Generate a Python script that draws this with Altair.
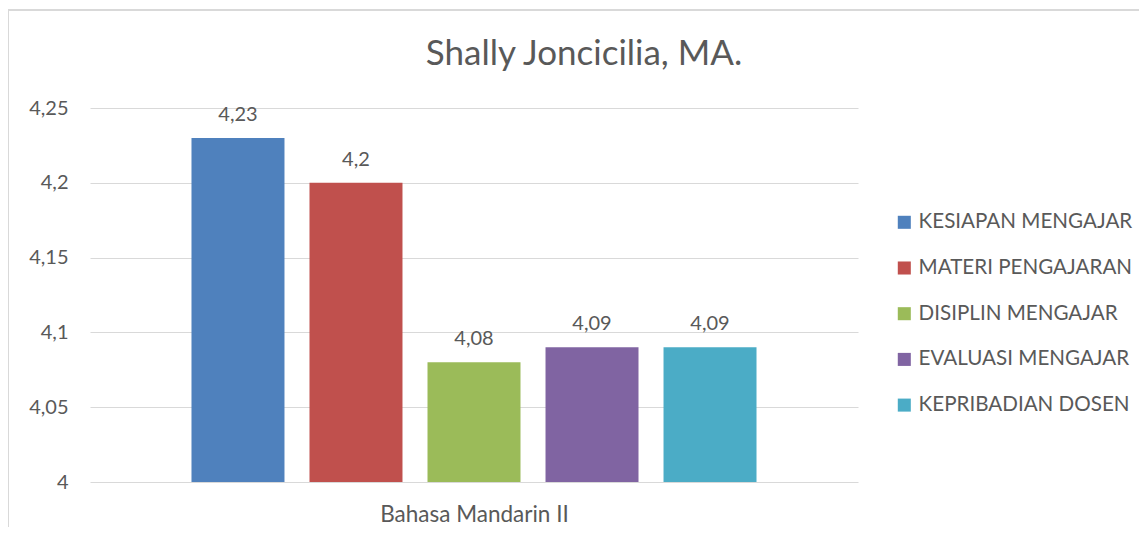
import altair as alt
import pandas as pd

title_text = "Shally Joncicilia, MA."
course = "Bahasa Mandarin II"
categories = ["KESIAPAN MENGAJAR", "MATERI PENGAJARAN", "DISIPLIN MENGAJAR",
              "EVALUASI MENGAJAR", "KEPRIBADIAN DOSEN"]
values = [4.23, 4.20, 4.08, 4.09, 4.09]
colors = ["#4F81BD", "#C0504D", "#9BBB59", "#8064A2", "#4BACC6"]
y_ticks = [4.0, 4.05, 4.1, 4.15, 4.2, 4.25]

df = pd.DataFrame({"course": course, "category": categories, "value": values})

FONT = "Lato"
GREY = "#595959"

base = alt.Chart(df).encode(
    x=alt.X("category:N", sort=categories,
            scale=alt.Scale(paddingInner=0.212, paddingOuter=0.86),
            axis=alt.Axis(labels=False, ticks=False, domain=False, title=course,
                          titleFont=FONT, titleFontSize=22.5, titleColor=GREY,
                          titleFontWeight="normal", titlePadding=21)),
)

bars = base.mark_bar(clip=True).encode(
    y=alt.Y("value:Q", scale=alt.Scale(domain=[4.0, 4.25], zero=False, nice=False),
            axis=alt.Axis(values=y_ticks, title=None, domain=False, ticks=False,
                          grid=True, gridColor="#d9d9d9", gridWidth=1,
                          labelFont=FONT, labelFontSize=20, labelColor=GREY,
                          labelPadding=22,
                          labelExpr="replace(format(datum.value, '~g'), '.', ',')")),
    color=alt.Color("category:N", sort=categories,
                    scale=alt.Scale(domain=categories, range=colors),
                    legend=alt.Legend(title=None, orient="none", legendX=804, legendY=104,
                                      symbolType="square", symbolSize=170,
                                      symbolStrokeWidth=0, symbolOpacity=1,
                                      labelFont=FONT, labelFontSize=20.6, labelColor=GREY,
                                      rowPadding=24.7, labelLimit=400, labelOffset=4)),
)

labels = base.transform_calculate(
    label="replace(format(datum.value, '~g'), '.', ',')"
).mark_text(font=FONT, fontSize=20, color=GREY, baseline="alphabetic", dy=-17).encode(
    y=alt.Y("value:Q"),
    text="label:N",
)

title = alt.Chart(pd.DataFrame({"t": [title_text]})).mark_text(
    font=FONT, fontSize=35, color=GREY, baseline="alphabetic", align="center"
).encode(x=alt.value(494), y=alt.value(-43), text="t:N")

frame = alt.Chart(df).mark_rect(fill=None, stroke="#d9d9d9", strokeWidth=2).encode(
    x=alt.value(-82), x2=alt.value(1200), y=alt.value(-98), y2=alt.value(600)
)

chart = alt.layer(frame, bars, labels, title).properties(
    width=768, height=374,
    autosize=alt.AutoSizeParams(type="none"),
    padding={"left": 82, "top": 100, "right": 281, "bottom": 45},
).configure_view(stroke=None)

chart.save("out.html", embed_options={"renderer": "svg", "actions": False})
